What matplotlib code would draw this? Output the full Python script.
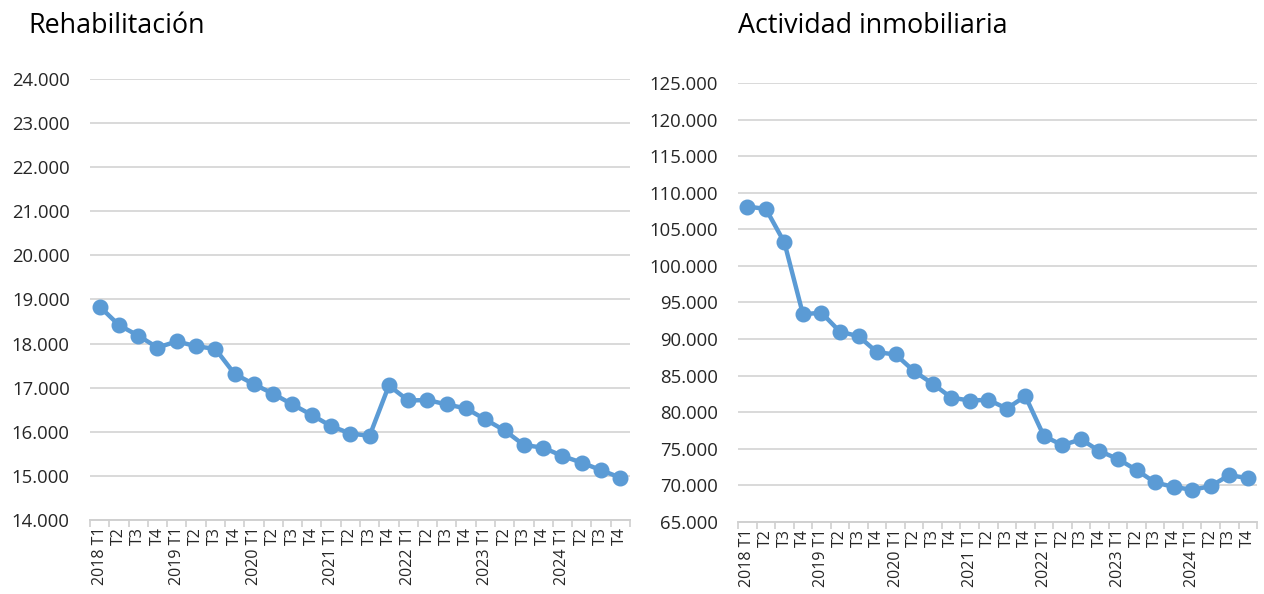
import matplotlib
matplotlib.use("Agg")
import matplotlib.pyplot as plt
from matplotlib.ticker import FuncFormatter, MultipleLocator, FixedLocator

plt.rcParams['font.family'] = ['Open Sans', 'DejaVu Sans']

years = ["2018", "2019", "2020", "2021", "2022", "2023", "2024"]
quarters = ["T1", "T2", "T3", "T4"]
labels = [(f"{y} {q}" if q == "T1" else q) for y in years for q in quarters]

rehab = [18840, 18420, 18180, 17910, 18050, 17940, 17880, 17310, 17080, 16860,
         16620, 16380, 16130, 15960, 15910, 17050, 16710, 16720, 16620, 16530,
         16280, 16030, 15700, 15640, 15450, 15300, 15130, 14960]

inmob = [108100, 107800, 103200, 93400, 93600, 91000, 90400, 88200, 87900, 85600,
         83900, 82000, 81600, 81700, 80500, 82200, 76750, 75500, 76300, 74700,
         73600, 72100, 70400, 69800, 69400, 69900, 71400, 71000]

titles = ["Rehabilitación", "Actividad inmobiliaria"]

fig = plt.figure(figsize=(12.64, 5.94), dpi=100)

def thousands(v, pos):
    return f"{int(round(v)):,}".replace(",", ".")

def draw(ax, values, ymin, ymax, step):
    x = list(range(len(values)))
    ax.plot(x, values, color="#5b9bd5", lw=3.2, marker="o", ms=10.5,
            markerfacecolor="#5b9bd5", markeredgecolor="#5b9bd5", zorder=3,
            solid_joinstyle="round")
    ax.set_xlim(-0.5, len(values) - 0.5)
    ax.set_ylim(ymin, ymax)
    ax.yaxis.set_major_locator(MultipleLocator(step))
    ax.yaxis.set_major_formatter(FuncFormatter(thousands))
    ax.grid(axis="y", color="#d9d9d9", lw=1.4, zorder=0)
    ax.set_axisbelow(True)
    for s in ["left", "right", "top"]:
        ax.spines[s].set_visible(False)
    ax.spines["bottom"].set_color("#d0d0d0")
    ax.spines["bottom"].set_linewidth(1.4)
    ax.set_xticks(x)
    ax.set_xticklabels(labels, rotation=90, ha="center", va="top", fontsize=11.5,
                       color="#262626")
    ax.xaxis.set_minor_locator(FixedLocator([i - 0.5 for i in range(len(values) + 1)]))
    ax.tick_params(axis="x", which="major", length=0, pad=5)
    ax.tick_params(axis="x", which="minor", length=5, width=1.2, color="#d0d0d0")
    ax.tick_params(axis="y", length=0, pad=14.5, labelsize=13.3, labelcolor="#262626")

ax1 = fig.add_axes([0.0712, 0.1246, 0.4272, 0.7424])
draw(ax1, rehab, 14000, 24000, 1000)
ax2 = fig.add_axes([0.5839, 0.1212, 0.4106, 0.7391])
draw(ax2, inmob, 65000, 125000, 5000)

fig.text(28 / 1264, 1 - 26 / 594, titles[0], fontsize=19.4, va="center", ha="left", color="#000000")
fig.text(738 / 1264, 1 - 26 / 594, titles[1], fontsize=19.4, va="center", ha="left", color="#000000")

fig.savefig("out.png", dpi=100)
